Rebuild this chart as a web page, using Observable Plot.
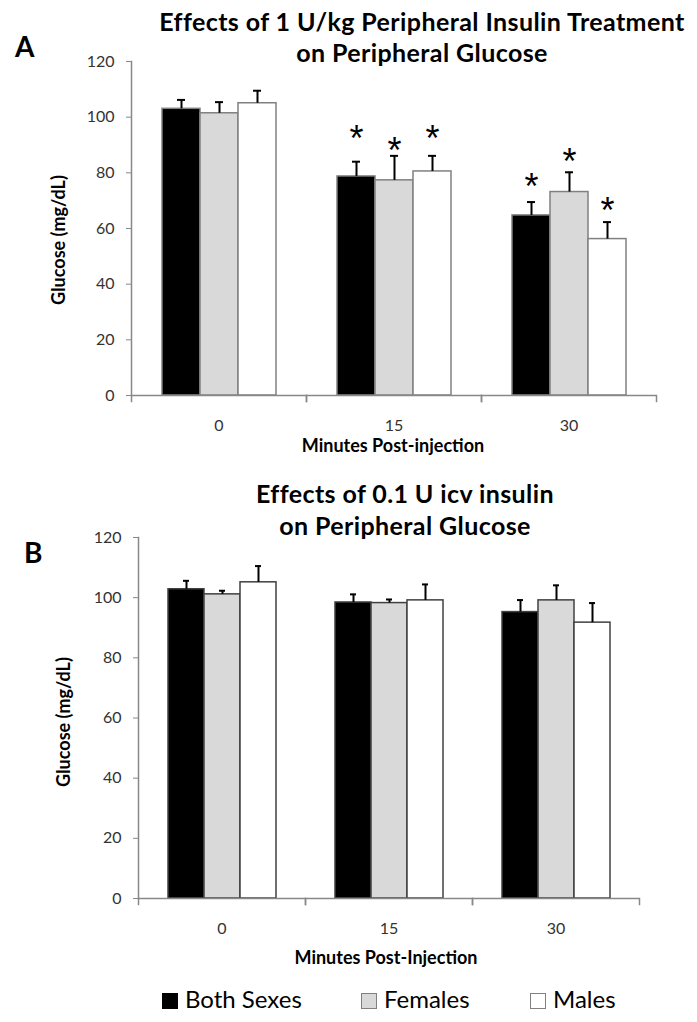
<!DOCTYPE html>
<html>
<head>
<meta charset="utf-8">
<script src="https://cdn.jsdelivr.net/npm/d3@7"></script>
<script src="https://cdn.jsdelivr.net/npm/@observablehq/plot@0.6"></script>
<style>
  html, body { margin: 0; padding: 0; background: #fff; }
  #page { position: relative; width: 697px; height: 1022px; overflow: hidden; font-family: Lato, "Open Sans", sans-serif; color: #000; }
  .abs { position: absolute; white-space: nowrap; line-height: 1; }
  .title { font-weight: 700; font-size: 25px; letter-spacing: 0.4px; text-align: center; width: 600px; white-space: normal; }
  .letter { font-weight: 700; font-size: 28px; }
  .ylab { font-weight: 700; font-size: 18px; transform: translate(-50%, -50%) rotate(-90deg); }
  .xlab { font-weight: 700; font-size: 18px; transform: translateX(-50%); }
  .leg { font-size: 24px; }
  .sw { position: absolute; width: 16px; height: 16px; box-sizing: border-box; }
  svg { position: absolute; left: 0; }
</style>
</head>
<body>
<div id="page"></div>
<script>
// ---------- data ----------
const times = ["0", "15", "30"];
const series = ["Both Sexes", "Females", "Males"];
const yTicks = [0, 20, 40, 60, 80, 100, 120];

// Panel A: 1 U/kg peripheral insulin (mean, SEM) per time point
const aBoth    = [103.0, 78.7, 64.7];
const aFemales = [101.4, 77.3, 73.1];
const aMales   = [105.0, 80.5, 56.2];
const aBothSem    = [3.2, 5.3, 4.8];
const aFemalesSem = [4.0, 8.8, 7.1];
const aMalesSem   = [4.5, 5.6, 6.1];
// asterisk (significance) marker heights, in mg/dL
const aBothStar    = [null, 95.2, 77.9];
const aFemalesStar = [null, 91.0, 86.8];
const aMalesStar   = [null, 95.2, 69.5];

// Panel B: 0.1 U icv insulin
const bBoth    = [102.8, 98.4, 95.2];
const bFemales = [101.1, 98.2, 99.1];
const bMales   = [105.1, 99.1, 91.7];
const bBothSem    = [2.8, 2.7, 4.0];
const bFemalesSem = [1.2, 1.2, 5.0];
const bMalesSem   = [5.4, 5.3, 6.5];

const seriesColors = ["#000000", "#d9d9d9", "#ffffff"];

function rowsOf(means, sems, stars) {
  const rows = [];
  series.forEach((s, si) => {
    times.forEach((t, ti) => {
      rows.push({time: t, series: s, mean: means[si][ti], sem: sems[si][ti],
                 star: stars ? stars[si][ti] : null});
    });
  });
  return rows;
}
const rowsA = rowsOf([aBoth, aFemales, aMales], [aBothSem, aFemalesSem, aMalesSem], [aBothStar, aFemalesStar, aMalesStar]);
const rowsB = rowsOf([bBoth, bFemales, bMales], [bBothSem, bFemalesSem, bMalesSem], null);

function panel({rows, height, marginTop, marginBottom, marginLeft, marginRight, barStroke}) {
  const H = height - marginTop - marginBottom;
  return Plot.plot({
    width: 697, height, marginTop, marginBottom, marginLeft, marginRight,
    style: {fontFamily: "Lato, sans-serif", background: "transparent", overflow: "visible"},
    fx: {domain: times, padding: 0, axis: null},
    x: {domain: series, paddingInner: 0, paddingOuter: 0.76, axis: null},
    y: {domain: [0, 120], axis: null},
    color: {domain: series, range: seriesColors},
    marks: [
      Plot.barY(rows, {fx: "time", x: "series", y: "mean", fill: "series", stroke: barStroke, strokeWidth: 1.5}),
      Plot.ruleX(rows, {fx: "time", x: "series", y1: "mean", y2: d => d.mean + d.sem, stroke: "#000", strokeWidth: 2}),
      Plot.tickY(rows, {fx: "time", x: "series", y: d => d.mean + d.sem, stroke: "#000", strokeWidth: 2, insetLeft: 15, insetRight: 15}),
      Plot.text(rows.filter(d => d.star != null), {fx: "time", x: "series", y: "star", text: () => "*", fontSize: 36, fontFamily: "Liberation Sans, Arial, sans-serif", dy: 9, fill: "#000"}),
      Plot.ruleY([0], {stroke: "#888", strokeWidth: 1.5}),
      Plot.frame({anchor: "left", facetAnchor: "left", stroke: "#888", strokeWidth: 1.5}),
      Plot.frame({anchor: "left", stroke: "#888", strokeWidth: 1.5, insetTop: H, insetBottom: -6}),
      Plot.frame({anchor: "right", stroke: "#888", strokeWidth: 1.5, insetTop: H, insetBottom: -6}),
      Plot.axisY({ticks: yTicks, tickSize: 5, tickPadding: 12, fontSize: 16, stroke: "#888", fill: "#333", label: null}),
      Plot.axisFx({anchor: "bottom", tickSize: 0, tickPadding: 24, fontSize: 16, fill: "#333", label: null})
    ]
  });
}

const page = document.getElementById("page");

const svgA = panel({rows: rowsA, height: 465, marginTop: 61, marginBottom: 70, marginLeft: 131, marginRight: 41, barStroke: "#808080"});
svgA.style.top = "0px";
page.appendChild(svgA);

const svgB = panel({rows: rowsB, height: 500, marginTop: 67, marginBottom: 72, marginLeft: 137, marginRight: 57, barStroke: "#404040"});
svgB.style.top = "470px";
page.appendChild(svgB);

// line-height 1: baseline sits 0.887em below the box top for Lato
function addText(cls, text, left, baseline, size) {
  const d = document.createElement("div");
  d.className = "abs " + cls;
  d.textContent = text;
  d.style.left = left + "px";
  d.style.top = (baseline - 0.887 * size) + "px";
  page.appendChild(d);
  return d;
}
// two-line centred titles in one block; first baseline placed explicitly
function addTitle(line1, line2, cx, baseline1, lineGap) {
  const F = 25;
  const d = document.createElement("div");
  d.className = "abs title";
  d.style.lineHeight = lineGap + "px";
  d.style.left = (cx - 300) + "px";
  d.style.top = (baseline1 - ((lineGap - 1.2 * F) / 2 + 0.987 * F)) + "px";
  d.append(line1, document.createElement("br"), line2);
  page.appendChild(d);
}
addTitle("Effects of 1 U/kg Peripheral Insulin Treatment", "on Peripheral Glucose", 422, 31, 31);
addTitle("Effects of 0.1 U icv insulin", "on Peripheral Glucose", 405, 503, 32);
addText("letter", "A", 15, 57, 28);
addText("letter", "B", 24, 563, 28);

// y-axis labels (rotated, positioned by center)
function addYLab(text, cx, cy) {
  const d = document.createElement("div");
  d.className = "abs ylab";
  d.textContent = text;
  d.style.left = cx + "px";
  d.style.top = cy + "px";
  page.appendChild(d);
}
addYLab("Glucose (mg/dL)", 58, 240);
addYLab("Glucose (mg/dL)", 63, 722);

addText("xlab", "Minutes Post-injection", 393, 452, 18);
addText("xlab", "Minutes Post-Injection", 386, 964, 18);

// legend
const legendItems = [
  {label: series[0], color: seriesColors[0], border: "#000", x: 162},
  {label: series[1], color: seriesColors[1], border: "#808080", x: 361},
  {label: series[2], color: seriesColors[2], border: "#808080", x: 530}
];
legendItems.forEach(it => {
  const sw = document.createElement("div");
  sw.className = "sw";
  sw.style.left = it.x + "px";
  sw.style.top = "993px";
  sw.style.background = it.color;
  sw.style.border = "1.5px solid " + it.border;
  page.appendChild(sw);
  addText("leg", it.label, it.x + 23, 1008, 24);
});
</script>
</body>
</html>
